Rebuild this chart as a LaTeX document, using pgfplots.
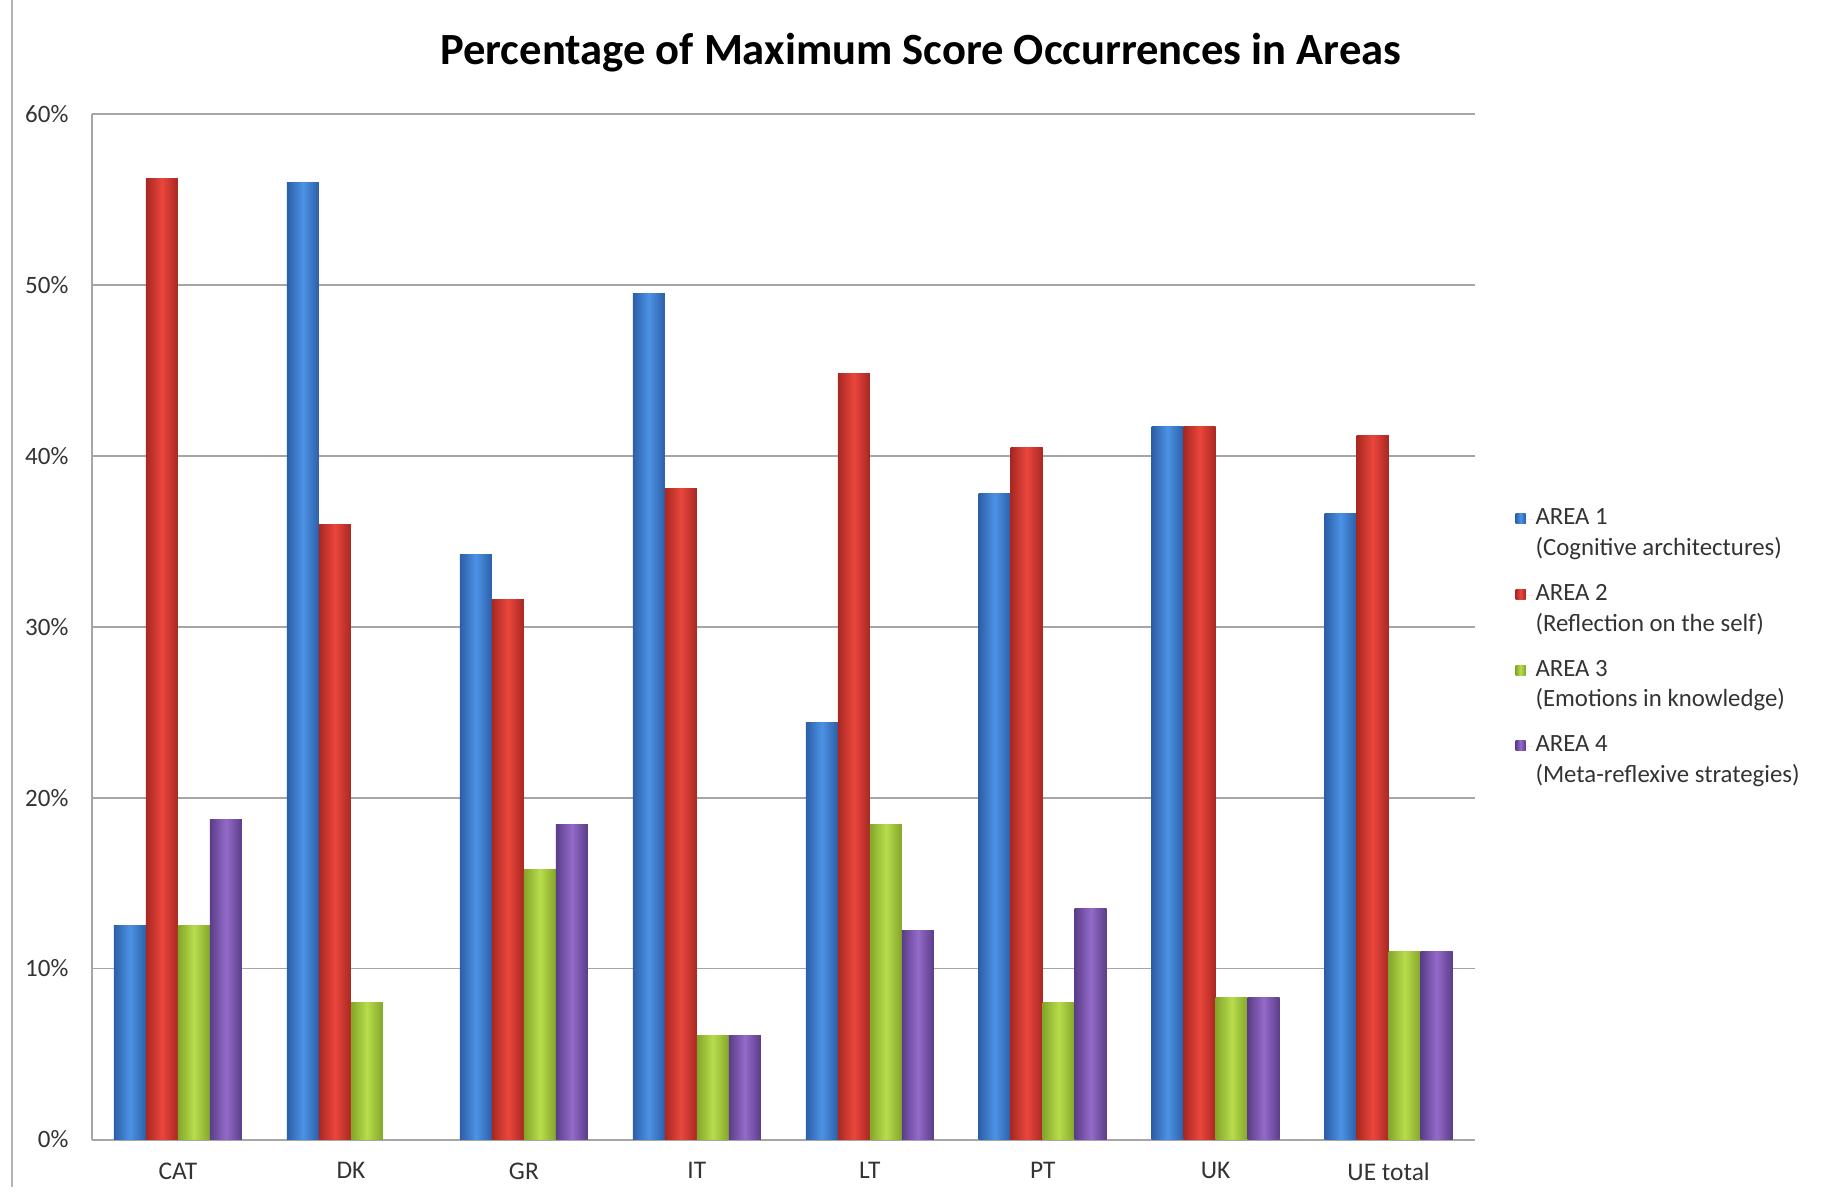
\documentclass[border=0pt]{standalone}
\usepackage{fontspec}
\setmainfont{Carlito}
\usepackage{pgfplots}
\pgfplotsset{compat=1.18}
\definecolor{bDark}{HTML}{2C5FA8}
\definecolor{bLight}{HTML}{4C92E4}
\definecolor{rDark}{HTML}{A82822}
\definecolor{rLight}{HTML}{EA463C}
\definecolor{gDark}{HTML}{84A62A}
\definecolor{gLight}{HTML}{B8DC4C}
\definecolor{pDark}{HTML}{5A3D88}
\definecolor{pLight}{HTML}{946AC9}
\pgfplotsset{
  aone/.style={draw=none, fill=bLight, left color=bDark, right color=bDark, middle color=bLight, bar shift=-0.2775},
  atwo/.style={draw=none, fill=rLight, left color=rDark, right color=rDark, middle color=rLight, bar shift=-0.0925},
  athree/.style={draw=none, fill=gLight, left color=gDark, right color=gDark, middle color=gLight, bar shift=0.0925},
  afour/.style={draw=none, fill=pLight, left color=pDark, right color=pDark, middle color=pLight, bar shift=0.2775},
}
\newcommand{\onebar}[3]{\addplot[#1,forget plot] coordinates {(#2,#3)};}
\begin{document}
\begin{tikzpicture}[x=1pt,y=1pt]
\path[use as bounding box] (0,0) rectangle (920,597.5);
\draw[black!30, line width=0.8pt] (6,4) -- (6,597.5);
\node[font=\bfseries\fontsize{22.3}{26}\selectfont] at (460.5,571) {Percentage of Maximum Score Occurrences in Areas};
\begin{axis}[
  at={(45.75pt,27.75pt)}, anchor=south west,
  scale only axis, width=691.8pt, height=512.8pt,
  xmin=-0.5, xmax=7.5, ymin=0, ymax=60,
  ybar=0pt, bar width=0.185,
  xtick={0,...,7}, xticklabels={CAT,DK,GR,IT,LT,PT,UK,UE total},
  ytick={0,10,...,60}, yticklabel={\pgfmathprintnumber{\tick}\%},
  /pgf/number format/assume math mode=true,
  ymajorgrids, grid style={black!35, line width=0.9pt},
  axis x line*=bottom, axis y line*=left,
  axis line style={-, black!35, line width=1pt},
  major tick length=0pt,
  tick label style={text=black!80},
  yticklabel style={font=\fontsize{12.5}{13}\selectfont, xshift=-8pt},
  xticklabel style={font=\fontsize{12.7}{14}\selectfont, yshift=-8pt},
  legend style={at={(1,0.48)}, anchor=west, xshift=17pt, draw=none, fill=none,
    font=\fontsize{12.4}{15.3}\selectfont, text=black!80,
    nodes={align=left, inner sep=1pt}, row sep=11pt},
  legend cell align=left,
  legend image code/.code={\fill[#1] (0pt,5pt) rectangle (5pt,10pt); \path (0pt,7pt) -- (9pt,7pt);},
]
% AREA 1
\onebar{aone}{0}{12.5}
\onebar{aone}{1}{56}
\onebar{aone}{2}{34.2}
\onebar{aone}{3}{49.5}
\onebar{aone}{4}{24.4}
\onebar{aone}{5}{37.8}
\onebar{aone}{6}{41.7}
\onebar{aone}{7}{36.6}
% AREA 2
\onebar{atwo}{0}{56.25}
\onebar{atwo}{1}{36}
\onebar{atwo}{2}{31.6}
\onebar{atwo}{3}{38.1}
\onebar{atwo}{4}{44.8}
\onebar{atwo}{5}{40.5}
\onebar{atwo}{6}{41.7}
\onebar{atwo}{7}{41.2}
% AREA 3
\onebar{athree}{0}{12.5}
\onebar{athree}{1}{8}
\onebar{athree}{2}{15.8}
\onebar{athree}{3}{6.1}
\onebar{athree}{4}{18.4}
\onebar{athree}{5}{8.0}
\onebar{athree}{6}{8.3}
\onebar{athree}{7}{11.0}
% AREA 4 (DK has no bar)
\onebar{afour}{0}{18.75}
\onebar{afour}{2}{18.4}
\onebar{afour}{3}{6.1}
\onebar{afour}{4}{12.25}
\onebar{afour}{5}{13.5}
\onebar{afour}{6}{8.3}
\onebar{afour}{7}{11.0}
\addlegendimage{aone}
\addlegendentry{AREA 1\\(Cognitive architectures)}
\addlegendimage{atwo}
\addlegendentry{AREA 2\\(Reflection on the self)}
\addlegendimage{athree}
\addlegendentry{AREA 3\\(Emotions in knowledge)}
\addlegendimage{afour}
\addlegendentry{AREA 4\\(Meta-reflexive strategies)}
\end{axis}
\end{tikzpicture}
\end{document}
